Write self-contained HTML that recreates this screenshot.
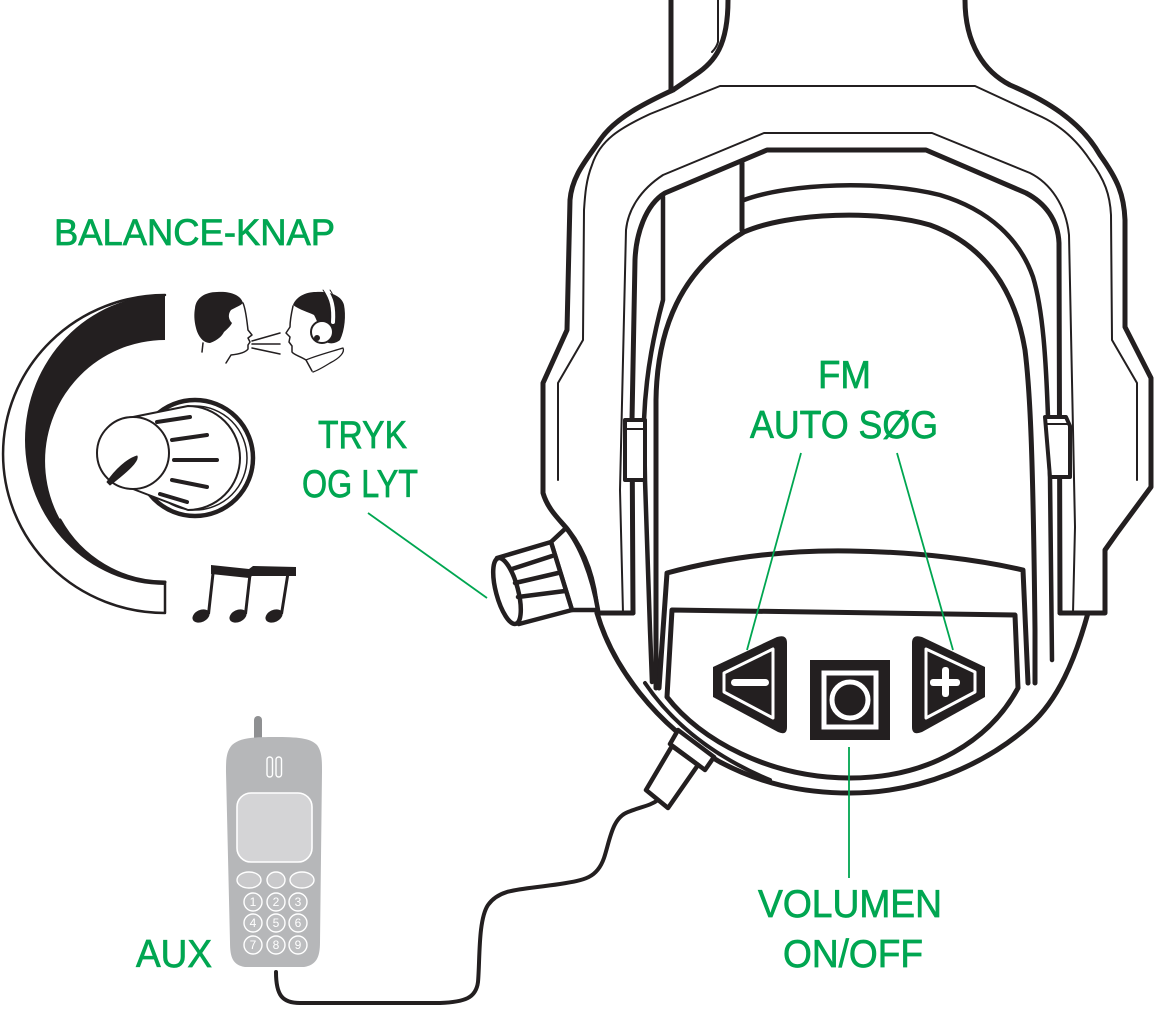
<!DOCTYPE html>
<html><head><meta charset="utf-8"><style>
html,body{margin:0;padding:0;background:#fff;}
svg{display:block}
.lbl{font-family:"Liberation Sans",sans-serif;fill:#00a651;stroke:#00a651;stroke-width:0.7;font-size:39px;}
.dg{font-family:"Liberation Sans",sans-serif;fill:#fff;font-size:12px;text-anchor:middle;}
</style></head><body>
<svg width="1155" height="1009" viewBox="0 0 1155 1009" xmlns="http://www.w3.org/2000/svg">
<rect width="1155" height="1009" fill="#fff"/>

<!-- ===== HEADSET ===== -->
<g fill="none" stroke="#231f20" stroke-linejoin="round" stroke-linecap="round">
  <path d="M671,0 L671,91" stroke-width="5"/>
  <path d="M728,0 C728,45 715,62 695,75 L673,90" stroke-width="5"/>
  <path d="M718,0 L718,42 C717,46 715,49 712,52" stroke-width="2"/>
  <path d="M673,90 C645,103 615,118 600,140 C588,158 572,175 570,200 L567,330 L543,383 L543,493 C548,510 560,520 568,530 C585,552 595,580 597,613 L633,613" stroke-width="5"/>
  <path d="M965,0 C965,45 985,72 1010,85 C1045,100 1080,120 1100,155 C1118,180 1124,195 1125,220 L1125,327 L1151,378 L1151,487 L1117,533 L1105,550 L1105,613 L1060,613" stroke-width="5"/>
  <path d="M1137,480 L1137,383 L1112,340 L1111,215 C1110,195 1105,180 1090,160 C1080,145 1065,128 1042,117 L975,86 L720,86 L650,114 C620,128 600,140 592,165 C586,180 585,195 584,210 L583,340 L558,383 L558,480" stroke-width="2"/>
  <path d="M623,613 L620,490 L626,230 C628,210 640,190 663,175 L764,133 L932,133 L1030,173 C1050,183 1066,205 1069,235 L1075,527 L1073,613" stroke-width="2"/>
  <path d="M633,613 L632,420 L635,260 C636,235 645,205 665,193 L767,150 L926,150 L1026,193 C1045,203 1058,220 1059,243 L1060,613" stroke-width="5"/>
  <path d="M663,197 L663,300 C655,330 646,370 644,420 L645,480 L650,630 L652,682" stroke-width="4.5"/>
  <path d="M742,163 L742,230" stroke-width="5"/>
  <path d="M744,200 C790,183 880,180 940,195 C990,210 1020,240 1033,277 C1043,310 1046,360 1048,417 L1050,477 L1052,660" stroke-width="4.5"/>
  <path d="M656,688 L656,400 C657,330 680,270 744,232 C790,212 880,210 930,225 C985,245 1015,290 1025,350 C1030,390 1033,450 1035,630 L1035,683" stroke-width="5"/>
  <rect x="625" y="420" width="20" height="60" fill="#fff" stroke-width="4"/>
  <path d="M627,429 L643,429" stroke-width="2"/>
  <path d="M1045,417 L1066,417 L1070,426 L1070,477 L1050,477 Z" fill="#fff" stroke-width="4"/>
  <path d="M1047,424 L1068,424" stroke-width="2"/>
  <path d="M597,613 C612,665 655,725 720,762 C760,783 800,793 850,793 C920,793 985,765 1030,725 C1058,700 1075,660 1088,613" stroke-width="5"/>
  <path d="M645,683 C670,720 710,755 770,780" stroke-width="4"/>
  <path d="M659,688 L667,573 C730,556 790,550 850,551 C920,552 980,560 1023,570 L1028,683" stroke-width="5"/>
  <path d="M672,610 L1015,615 L1018,688 C990,740 930,778 850,778 C770,778 700,740 667,697 Z" stroke-width="5"/>

  <path d="M551,542 L566,528 C580,545 592,575 598,610 L572,610 Z" fill="#fff" stroke-width="4.5"/>
  <path d="M497,558 L551,542 L572,610 L519,624 Z" fill="#fff" stroke-width="4.5"/>
  <ellipse cx="507" cy="591" rx="11" ry="34" transform="rotate(-15 507 591)" fill="#fff" stroke-width="4.5"/>
  <path d="M512,569 L552,556 M515,583 L558,573 M518,597 L565,591" stroke-width="4.5"/>

  <path d="M678,730 L714,757 L705,770 L670,744 Z" fill="#fff" stroke-width="4.5"/>
  <path d="M672,746 L698,765 L668,808 L646,790 Z" fill="#fff" stroke-width="4.5"/>
  <path d="M658,800 C650,806 640,807 628,812 C612,818 610,840 604,858 C597,878 585,880 560,884 C520,890 500,888 488,905 C478,920 480,960 478,982 C476,998 465,1002 440,1003 L300,1003 C282,1003 276,995 276,972" stroke-width="4"/>
</g>

<!-- buttons -->
<g>
  <path d="M713,667 L777,637 Q787,634 787,643 L787,727 Q787,736 778,732 L713,697 Z" fill="#231f20"/>
  <path d="M724,673 L773,649 L773,718 L724,692 Z" fill="none" stroke="#fff" stroke-width="3" stroke-linejoin="round"/>
  <rect x="731" y="679" width="38" height="7" rx="3.5" fill="#fff"/>
  <rect x="810" y="660" width="80" height="80" fill="#231f20"/>
  <rect x="824" y="673" width="52" height="54" fill="none" stroke="#fff" stroke-width="5"/>
  <circle cx="850" cy="700" r="18" fill="none" stroke="#fff" stroke-width="5"/>
  <path d="M922,637 L985,667 L985,697 L922,732 Q912,736 912,727 L912,643 Q912,634 922,637 Z" fill="#231f20"/>
  <path d="M926,649 L975,672 L975,692 L926,718 Z" fill="none" stroke="#fff" stroke-width="3" stroke-linejoin="round"/>
  <rect x="930" y="679" width="30" height="7" rx="3" fill="#fff"/>
  <rect x="942" y="667" width="7" height="30" rx="3" fill="#fff"/>
</g>

<!-- ===== BALANCE ICON ===== -->
<g stroke="#231f20" stroke-linecap="round" stroke-linejoin="round">
  <path d="M165,295 A140,145 0 0 0 165,585 L165,582 A120,121 0 0 1 165,340 Z" fill="#231f20" stroke="none"/>
  <path d="M165,295 A162,159 0 0 0 165,613 L165,582" fill="none" stroke-width="2.5"/>
  <path d="M165,582 A120,121 0 0 1 60,520" fill="none" stroke-width="3"/>
  <circle cx="195" cy="458" r="58" fill="#fff" stroke-width="4.5"/>
  <circle cx="195" cy="458" r="52" fill="none" stroke-width="1.5"/>
  <path d="M133,417 L188,406 A52,52 0 0 1 188,510 L133,489 Z" fill="#fff" stroke-width="2"/>
  <path d="M157,422 L190,417 M172,440 L207,435 M174,460 L217,460 M172,480 L207,487 M160,494 L187,502" stroke-width="4" fill="none"/>
  <circle cx="133" cy="453" r="36" fill="#fff" stroke-width="2"/>
  <path d="M107,482 C115,470 127,459 137,456 C139,461 128,471 110,485 Z" fill="#231f20" stroke-width="1"/>
</g>

<!-- faces -->
<g stroke="#231f20" stroke-linecap="round" stroke-linejoin="round">
  <path d="M195,308 C196,298 205,292 217,292 C230,291 241,295 243,303 C240,306 236,307 231,310 C228,314 228,319 232,323 C230,327 226,330 224,332 C222,336 218,340 210,343 C203,343 198,336 196,328 C194,320 194,314 195,308 Z" fill="#231f20" stroke="none"/>
  <path d="M243,303 C246,310 247,322 248,330 L252,335 L248,338 L250,342 L248,345 L248,349 C246,352 240,354 231,355 L226,363" fill="none" stroke-width="1.5"/>
  <path d="M203,343 L202,352" fill="none" stroke-width="1.5"/>
  <path d="M252,341 L280,333 M252,344 L280,344 M252,348 L280,354" fill="none" stroke-width="1.5"/>
  <path d="M293,305 C296,297 305,292 316,292 C330,291 342,296 344,305 C346,315 345,330 340,340 C335,344 330,344 326,342 C322,336 318,322 314,315 C308,312 300,310 293,305 Z" fill="#231f20" stroke="none"/>
  <path d="M293,306 C291,315 290,322 290,327 L286,333 L290,337 L289,342 L292,346 L292,352 C294,355 300,356 306,360 L312,371" fill="none" stroke-width="1.5"/>
  <path d="M326,291 C332,298 334,308 333,322" fill="none" stroke="#fff" stroke-width="4"/>
  <path d="M323,290 C329,298 331,308 330,322 M330,290 C336,298 337,310 336,322" fill="none" stroke-width="1"/>
  <circle cx="322" cy="332" r="11" fill="#fff" stroke-width="2"/>
  <circle cx="317" cy="338" r="3" fill="#231f20" stroke="none"/>
  <path d="M306,360 C315,356 330,352 343,348 C345,352 340,358 330,363 C322,368 316,371 313,372" fill="none" stroke-width="1.3"/>
</g>

<!-- music notes -->
<g fill="#231f20">
  <ellipse cx="201" cy="616" rx="9" ry="6" transform="rotate(-25 201 616)"/>
  <ellipse cx="238" cy="616" rx="9" ry="6" transform="rotate(-25 238 616)"/>
  <ellipse cx="274" cy="616" rx="9" ry="6" transform="rotate(-25 274 616)"/>
  <path d="M207,614 L212,569 L215,569 L210,614 Z"/>
  <path d="M244,614 L249,570 L252,570 L247,614 Z"/>
  <path d="M280,614 L287,570 L290,570 L283,614 Z"/>
  <path d="M211,565 L249,569 L253,566 L296,567 L296,576 L252,576 L249,578 L211,574 Z"/>
</g>

<!-- ===== PHONE ===== -->
<g>
  <rect x="254" y="716" width="8" height="26" rx="4" fill="#8f9092"/>
  <path d="M232,745 C240,738 252,737 274,737 C298,737 310,738 317,745 C322,752 322,760 322,772 L320,942 C320,958 316,965 304,967 L245,967 C233,965 230,958 230,942 L226,772 C226,760 226,752 232,745 Z" fill="#b6b7b9"/>
  <rect x="267" y="757" width="5.5" height="20" rx="2.75" fill="none" stroke="#fff" stroke-width="1.4"/>
  <rect x="276" y="757" width="5.5" height="20" rx="2.75" fill="none" stroke="#fff" stroke-width="1.4"/>
  <rect x="237" y="793" width="75" height="69" rx="14" fill="#d4d4d6" stroke="#fff" stroke-width="1.6"/>
  <ellipse cx="249" cy="880" rx="12" ry="8" fill="#c9c9cb" stroke="#fff" stroke-width="1.4"/>
  <ellipse cx="276" cy="880" rx="9" ry="8" fill="#c9c9cb" stroke="#fff" stroke-width="1.4"/>
  <ellipse cx="302" cy="880" rx="12" ry="8" fill="#c9c9cb" stroke="#fff" stroke-width="1.4"/>
  <g fill="#bdbec0" stroke="#fff" stroke-width="1.4">
    <circle cx="253" cy="902" r="9"/><circle cx="276" cy="902" r="9"/><circle cx="298" cy="902" r="9"/>
    <circle cx="253" cy="923" r="9"/><circle cx="276" cy="923" r="9"/><circle cx="298" cy="923" r="9"/>
    <circle cx="253" cy="945" r="9"/><circle cx="276" cy="945" r="9"/><circle cx="298" cy="945" r="9"/>
  </g>
  <text class="dg" x="253" y="906">1</text><text class="dg" x="276" y="906">2</text><text class="dg" x="298" y="906">3</text>
  <text class="dg" x="253" y="927">4</text><text class="dg" x="276" y="927">5</text><text class="dg" x="298" y="927">6</text>
  <text class="dg" x="253" y="949">7</text><text class="dg" x="276" y="949">8</text><text class="dg" x="298" y="949">9</text>
</g>

<!-- ===== GREEN LEADERS ===== -->
<g stroke="#00a651" stroke-width="1.8" fill="none">
  <path d="M368,513 L487,598"/>
  <path d="M801,453 L747,650"/>
  <path d="M897,453 L953,650"/>
  <path d="M849,747 L849,878"/>
</g>

<!-- ===== LABELS ===== -->
<text class="lbl" x="54" y="245" textLength="281" lengthAdjust="spacingAndGlyphs" style="font-size:37px">BALANCE-KNAP</text>
<text class="lbl" x="318" y="448" textLength="89" lengthAdjust="spacingAndGlyphs">TRYK</text>
<text class="lbl" x="302" y="497" textLength="116" lengthAdjust="spacingAndGlyphs">OG LYT</text>
<text class="lbl" x="818" y="388" textLength="53" lengthAdjust="spacingAndGlyphs">FM</text>
<text class="lbl" x="750" y="438" textLength="188" lengthAdjust="spacingAndGlyphs">AUTO SØG</text>
<text class="lbl" x="758" y="917" textLength="184" lengthAdjust="spacingAndGlyphs">VOLUMEN</text>
<text class="lbl" x="783" y="967" textLength="140" lengthAdjust="spacingAndGlyphs">ON/OFF</text>
<text class="lbl" x="136" y="967" textLength="76" lengthAdjust="spacingAndGlyphs">AUX</text>
</svg>
</body></html>
